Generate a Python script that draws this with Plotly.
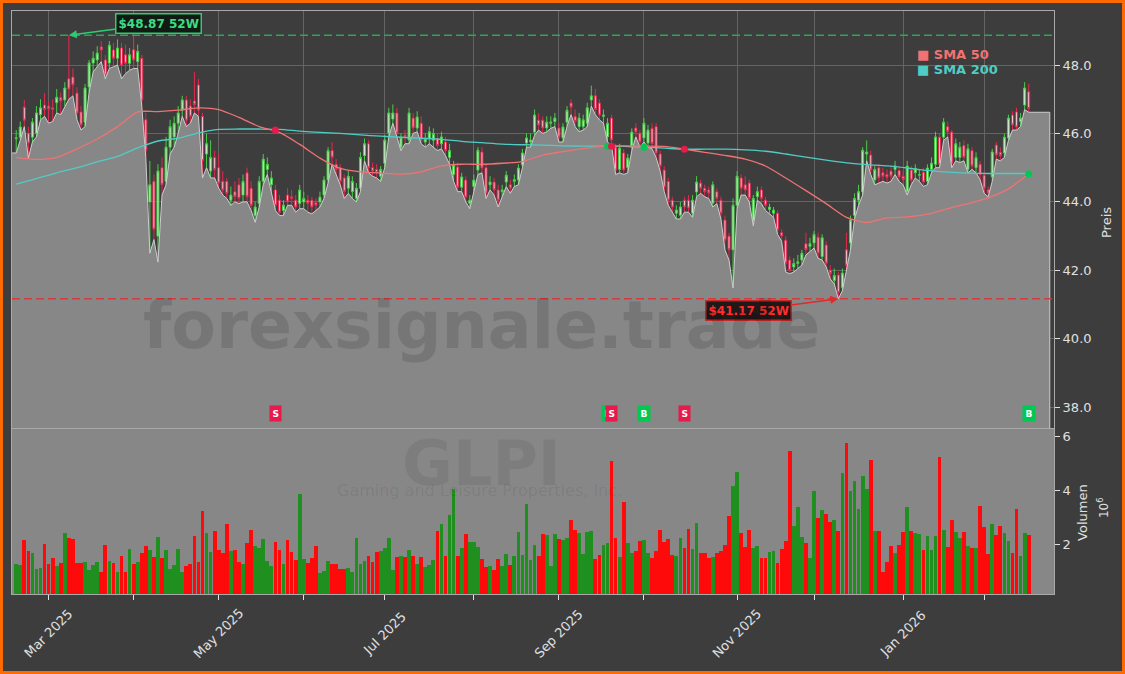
import pandas as pd
import plotly.graph_objects as go

# ---------------- data ----------------
first_day = "2025-02-19"
last_day = "2026-02-18"
market_holidays = ["2025-04-18", "2025-05-26", "2025-06-19", "2025-07-04", "2025-09-01",
                   "2025-11-27", "2025-12-25", "2026-01-01", "2026-01-19", "2026-02-16"]

opens = [
    45.85, 45.89, 46.77, 46.01, 45.89, 46.01, 46.55, 46.83, 46.80, 46.75,
    46.90, 47.05, 46.98, 47.60, 47.65, 47.18, 46.63, 46.33, 47.36, 48.06,
    48.15, 48.53, 48.15, 48.06, 48.44, 48.20, 48.50, 48.30, 48.05, 48.45,
    48.10, 48.20, 46.40, 44.00, 44.60, 43.00, 45.00, 44.60, 45.60, 45.90,
    46.30, 46.68, 46.98, 46.80, 46.95, 47.42, 46.50, 45.40, 44.90, 45.30,
    45.00, 44.60, 44.60, 44.05, 44.30, 44.50, 44.20, 44.85, 44.40, 43.60,
    43.95, 44.60, 44.95, 44.50, 44.35, 44.05, 43.75, 44.20, 44.15, 44.05,
    43.95, 44.00, 44.05, 44.05, 43.98, 44.00, 44.20, 44.64, 45.50, 45.10,
    45.00, 44.70, 44.40, 44.30, 44.10, 44.40, 45.35, 45.70, 45.00, 44.95,
    44.75, 45.13, 46.01, 46.42, 46.60, 45.60, 45.95, 45.81, 46.45, 46.16,
    46.30, 45.75, 45.85, 45.80, 45.85, 45.70, 45.75, 45.30, 44.80, 45.02,
    44.43, 44.64, 43.95, 44.45, 44.93, 45.46, 45.00, 44.50, 44.58, 44.35,
    44.30, 44.58, 44.50, 44.60, 44.64, 45.08, 45.72, 45.75, 46.04, 46.39,
    46.39, 46.16, 46.30, 46.35, 46.16, 45.87, 46.33, 46.89, 46.50, 46.20,
    46.20, 46.30, 46.98, 47.10, 46.89, 46.50, 45.90, 46.45, 45.60, 44.95,
    45.43, 45.00, 45.60, 46.16, 46.01, 45.87, 45.72, 46.15, 46.20, 45.40,
    44.93, 44.60, 44.05, 43.67, 43.61, 44.05, 44.05, 43.67, 44.29, 44.55,
    44.40, 44.35, 43.96, 44.30, 44.05, 43.47, 43.00, 42.60, 43.90, 44.70,
    44.50, 44.55, 43.45, 44.15, 44.35, 44.05, 43.78, 43.67, 43.67, 43.10,
    42.88, 42.30, 42.10, 42.20, 42.30, 42.78, 42.70, 42.80, 42.97, 42.40,
    42.74, 42.00, 41.70, 41.86, 41.50, 42.60, 42.80, 43.60, 44.05, 44.29,
    45.40, 45.37, 44.64, 45.00, 44.85, 44.80, 44.90, 44.95, 44.92, 44.75,
    44.30, 44.93, 44.85, 44.78, 44.87, 44.60, 44.95, 45.10, 45.89, 45.89,
    46.20, 46.04, 45.30, 45.30, 45.65, 44.95, 45.50, 45.00, 45.10, 44.78,
    44.35, 44.73, 45.66, 45.45, 45.43, 45.87, 46.54, 46.63, 46.35, 46.83,
    47.22,
]
highs = [
    46.10, 46.35, 46.98, 46.20, 46.45, 46.80, 47.00, 47.18, 46.95, 47.00,
    47.30, 47.20, 47.50, 48.87, 47.90, 47.35, 46.80, 47.45, 48.15, 48.40,
    48.55, 48.70, 48.30, 48.70, 48.65, 48.75, 48.65, 48.60, 48.50, 48.85,
    48.60, 48.30, 46.60, 45.20, 44.80, 45.10, 45.30, 45.90, 46.40, 46.50,
    46.80, 47.10, 47.10, 47.00, 47.80, 47.60, 46.60, 46.00, 45.80, 45.50,
    45.40, 44.90, 44.70, 44.45, 44.60, 44.70, 44.80, 45.00, 44.60, 44.00,
    44.75, 45.40, 45.30, 44.90, 44.50, 44.20, 44.05, 44.40, 44.35, 44.20,
    44.50, 44.30, 44.20, 44.15, 44.10, 44.30, 44.75, 45.60, 45.75, 45.25,
    45.10, 44.80, 44.90, 44.75, 44.55, 45.45, 45.85, 45.80, 45.15, 45.10,
    45.05, 45.95, 46.75, 46.85, 46.75, 46.00, 46.10, 46.75, 46.60, 46.65,
    46.50, 46.00, 46.20, 46.15, 46.00, 46.05, 45.90, 45.70, 45.20, 45.15,
    44.85, 44.75, 44.20, 44.80, 45.60, 45.60, 45.10, 44.75, 44.70, 44.50,
    44.50, 44.90, 44.65, 44.80, 45.10, 45.55, 46.00, 46.00, 46.70, 46.60,
    46.50, 46.50, 46.50, 46.60, 46.30, 46.30, 46.80, 47.00, 46.70, 46.60,
    46.55, 46.90, 47.40, 47.30, 47.00, 46.70, 46.45, 46.55, 45.70, 45.70,
    45.55, 45.40, 46.15, 46.30, 46.10, 46.45, 46.25, 46.30, 46.30, 45.50,
    45.05, 44.70, 44.15, 43.90, 44.00, 44.15, 44.20, 44.20, 44.75, 44.65,
    44.50, 44.45, 44.60, 44.40, 44.15, 43.60, 43.10, 44.10, 44.90, 44.80,
    44.75, 44.65, 44.20, 44.45, 44.45, 44.15, 43.95, 43.85, 43.75, 43.20,
    43.00, 42.40, 42.35, 42.45, 42.60, 43.10, 42.95, 43.15, 43.10, 43.05,
    42.85, 42.15, 42.05, 41.95, 42.05, 43.10, 43.60, 44.25, 44.50, 45.60,
    45.80, 45.50, 45.05, 45.10, 45.00, 44.95, 45.05, 45.20, 45.05, 44.90,
    45.20, 45.05, 45.10, 44.95, 45.00, 45.10, 45.30, 46.05, 46.00, 46.45,
    46.35, 46.10, 45.85, 45.75, 45.80, 45.70, 45.60, 45.45, 45.20, 44.90,
    44.45, 45.55, 45.75, 45.60, 46.00, 46.55, 46.65, 46.75, 46.60, 47.50,
    47.45,
]
lows = [
    45.43, 45.80, 46.20, 45.28, 45.75, 45.90, 46.40, 46.50, 46.30, 46.35,
    46.60, 46.55, 46.80, 47.00, 47.10, 46.40, 46.10, 46.20, 47.20, 47.80,
    47.95, 48.10, 47.60, 47.90, 47.95, 48.00, 47.60, 47.75, 47.85, 47.90,
    47.90, 46.80, 45.30, 42.50, 42.90, 42.24, 44.20, 44.50, 45.40, 45.60,
    46.00, 46.50, 46.20, 46.30, 46.60, 46.50, 44.70, 45.00, 44.70, 44.70,
    44.40, 44.20, 44.10, 43.90, 44.00, 43.95, 44.00, 44.00, 43.75, 43.40,
    43.85, 44.50, 44.80, 44.30, 43.75, 43.60, 43.60, 43.90, 43.90, 43.70,
    43.80, 43.80, 43.70, 43.65, 43.75, 43.85, 44.10, 44.55, 45.10, 44.80,
    44.50, 44.10, 44.25, 44.10, 44.00, 44.30, 45.20, 44.85, 44.75, 44.70,
    44.60, 45.00, 45.90, 46.30, 45.90, 45.50, 45.70, 45.70, 46.00, 46.05,
    45.70, 45.60, 45.70, 45.60, 45.50, 45.55, 45.35, 45.10, 44.60, 44.30,
    44.30, 44.00, 43.80, 44.30, 44.80, 44.85, 44.10, 44.35, 44.20, 43.85,
    44.15, 44.45, 44.25, 44.45, 44.50, 45.00, 45.60, 45.60, 45.95, 46.10,
    46.00, 46.05, 46.15, 46.20, 45.75, 45.75, 46.20, 46.55, 46.20, 46.05,
    46.10, 46.20, 46.80, 46.55, 46.40, 46.30, 45.75, 45.65, 44.80, 44.85,
    44.80, 44.85, 45.50, 45.90, 45.60, 45.75, 45.60, 45.55, 45.30, 44.90,
    44.30, 43.90, 43.70, 43.50, 43.50, 43.70, 43.70, 43.55, 44.15, 44.25,
    44.15, 44.10, 43.85, 43.95, 43.50, 42.60, 42.30, 41.48, 43.80, 44.20,
    44.20, 44.00, 43.30, 44.05, 43.95, 43.75, 43.65, 43.55, 43.05, 42.85,
    41.95, 41.90, 41.95, 42.05, 42.15, 42.45, 42.55, 42.65, 42.35, 42.30,
    42.10, 41.75, 41.60, 41.17, 41.40, 42.00, 42.60, 43.50, 43.90, 44.20,
    45.20, 44.80, 44.50, 44.55, 44.60, 44.55, 44.60, 44.80, 44.60, 44.50,
    44.20, 44.50, 44.70, 44.60, 44.45, 44.50, 44.85, 45.00, 45.00, 45.80,
    45.90, 45.00, 45.20, 45.15, 45.20, 44.85, 44.95, 44.85, 44.65, 44.25,
    44.15, 44.60, 45.25, 45.20, 45.30, 45.80, 46.10, 46.10, 46.20, 46.70,
    46.62,
]
closes = [
    45.87, 46.19, 46.39, 45.72, 46.33, 46.60, 46.75, 46.70, 46.72, 46.70,
    47.06, 46.95, 47.33, 47.30, 47.42, 46.60, 46.25, 47.33, 48.06, 48.20,
    48.35, 48.44, 47.71, 48.58, 48.20, 48.50, 48.00, 48.05, 48.30, 48.15,
    48.40, 46.98, 45.50, 44.50, 43.20, 44.90, 44.50, 45.60, 46.20, 46.30,
    46.60, 46.98, 46.39, 46.50, 46.85, 46.68, 45.20, 45.70, 45.30, 44.95,
    44.55, 44.35, 44.25, 44.20, 44.15, 44.10, 44.60, 44.15, 43.90, 43.85,
    44.60, 45.25, 45.10, 44.70, 43.90, 43.70, 43.90, 44.00, 44.10, 43.85,
    44.35, 44.10, 43.96, 43.85, 43.90, 44.14, 44.64, 45.50, 45.30, 44.95,
    44.60, 44.30, 44.75, 44.60, 44.40, 45.30, 45.70, 45.00, 44.90, 44.85,
    44.95, 45.81, 46.60, 46.60, 46.01, 45.89, 45.88, 46.60, 46.16, 46.48,
    45.80, 45.85, 46.05, 46.00, 45.65, 45.90, 45.50, 45.50, 45.08, 44.43,
    44.73, 44.14, 44.05, 44.64, 45.51, 44.99, 44.26, 44.58, 44.35, 44.05,
    44.35, 44.78, 44.40, 44.65, 44.99, 45.43, 45.87, 45.81, 46.54, 46.25,
    46.16, 46.33, 46.33, 46.45, 45.89, 46.19, 46.68, 46.77, 46.35, 46.45,
    46.40, 46.75, 47.10, 46.70, 46.54, 46.54, 46.30, 45.81, 44.93, 45.57,
    44.93, 45.28, 46.04, 46.04, 45.75, 46.30, 46.10, 45.70, 45.43, 45.05,
    44.43, 44.05, 43.85, 43.76, 43.85, 43.85, 43.82, 44.05, 44.58, 44.40,
    44.30, 44.26, 44.50, 44.10, 43.67, 42.88, 42.60, 43.90, 44.75, 44.40,
    44.35, 44.10, 44.10, 44.30, 44.10, 43.90, 43.85, 43.76, 43.18, 43.00,
    42.21, 42.00, 42.20, 42.25, 42.50, 42.60, 42.78, 43.05, 42.50, 42.95,
    42.21, 41.90, 41.85, 41.35, 41.92, 42.15, 43.47, 44.10, 44.30, 45.51,
    45.46, 44.93, 44.95, 44.70, 44.75, 44.72, 44.75, 45.05, 44.73, 44.65,
    45.05, 44.64, 44.98, 44.80, 44.58, 44.99, 45.13, 45.90, 45.10, 46.33,
    46.05, 45.13, 45.70, 45.60, 45.30, 45.55, 45.05, 45.30, 44.80, 44.40,
    44.26, 45.46, 45.37, 45.35, 45.89, 46.45, 46.25, 46.19, 46.45, 47.33,
    46.73,
]
volume_millions = [
    1.27, 1.21, 2.16, 1.74, 1.67, 1.08, 1.12, 2.00, 1.27, 1.49,
    1.17, 1.30, 2.40, 2.22, 2.18, 1.28, 1.30, 1.33, 1.02, 1.21,
    1.33, 0.97, 1.96, 1.38, 1.30, 0.97, 1.56, 0.97, 1.82, 1.27,
    1.33, 1.67, 1.94, 1.78, 1.52, 2.26, 1.47, 1.78, 1.08, 1.23,
    1.82, 0.97, 1.17, 1.27, 2.31, 1.33, 3.21, 2.40, 1.69, 2.48,
    1.78, 1.67, 2.73, 1.74, 1.78, 1.33, 1.25, 2.04, 2.51, 1.93,
    1.85, 2.18, 1.38, 1.17, 2.07, 1.78, 1.27, 2.15, 1.69, 1.41,
    3.84, 1.45, 1.30, 1.49, 1.93, 0.94, 1.00, 1.38, 1.27, 1.27,
    1.08, 1.08, 1.12, 0.97, 2.22, 1.27, 1.38, 1.56, 1.33, 1.71,
    1.74, 1.85, 2.22, 1.05, 1.52, 1.56, 1.52, 1.78, 1.56, 1.27,
    1.52, 1.16, 1.23, 1.41, 2.48, 2.73, 1.56, 3.09, 4.02, 1.56,
    1.85, 2.37, 2.06, 2.06, 1.89, 1.45, 1.16, 1.19, 1.05, 1.45,
    1.19, 1.63, 1.23, 1.56, 2.44, 1.60, 3.50, 1.41, 1.96, 1.56,
    2.37, 2.33, 1.19, 2.37, 2.18, 2.15, 2.22, 2.88, 2.51, 2.40,
    1.63, 2.44, 2.48, 1.45, 1.60, 1.96, 2.04, 5.08, 2.22, 1.52,
    3.54, 2.04, 1.67, 1.74, 2.11, 2.15, 1.67, 1.49, 1.74, 2.51,
    2.07, 2.18, 1.60, 1.56, 2.22, 1.85, 2.55, 1.82, 2.77, 1.67,
    1.67, 1.49, 1.52, 1.67, 1.75, 1.96, 3.03, 4.14, 4.68, 2.40,
    1.89, 2.51, 1.85, 1.93, 1.49, 1.49, 1.71, 1.74, 1.30, 1.82,
    2.11, 5.45, 2.66, 3.36, 2.26, 2.04, 1.49, 3.95, 2.95, 3.27,
    3.10, 2.81, 2.88, 2.48, 4.64, 5.74, 3.98, 4.35, 3.28, 4.53,
    4.05, 5.12, 2.48, 2.48, 0.97, 1.34, 1.93, 1.67, 1.96, 2.44,
    3.36, 2.48, 2.40, 2.37, 1.78, 2.29, 1.78, 2.29, 5.23, 2.51,
    1.89, 2.88, 2.44, 2.22, 2.44, 1.93, 1.85, 1.85, 3.40, 2.62,
    1.63, 2.73, 2.33, 2.66, 2.40, 2.11, 1.67, 3.31, 1.56, 2.40,
    2.33,
]

sma_idx = [0, 5, 10, 15, 20, 25, 30, 35, 40, 45, 50, 55, 60, 65, 70, 75, 80, 85, 90, 95,
           100, 105, 110, 115, 120, 125, 130, 135, 140, 145, 150, 155, 160, 165, 170, 175,
           180, 185, 190, 195, 200, 205, 210, 215, 220, 225, 230, 235, 240, 245, 250]
sma50 = [45.30, 45.24, 45.30, 45.55, 45.84, 46.20, 46.63, 46.64, 46.68, 46.75,
         46.70, 46.47, 46.20, 46.03, 45.68, 45.28, 44.98, 44.88, 44.84, 44.81,
         44.88, 45.05, 45.10, 45.10, 45.13, 45.18, 45.37, 45.47, 45.56, 45.62,
         45.64, 45.63, 45.62, 45.54, 45.45, 45.36, 45.25, 45.05, 44.70, 44.33,
         43.95, 43.55, 43.40, 43.53, 43.56, 43.64, 43.80, 43.95, 44.12, 44.38, 44.82]
sma200 = [44.52, 44.68, 44.85, 45.00, 45.17, 45.33, 45.58, 45.78, 45.86, 46.02,
          46.12, 46.13, 46.13, 46.12, 46.07, 46.03, 46.00, 45.96, 45.92, 45.89,
          45.86, 45.83, 45.77, 45.73, 45.69, 45.67, 45.66, 45.64, 45.63, 45.63,
          45.62, 45.60, 45.57, 45.54, 45.54, 45.54, 45.52, 45.48, 45.40, 45.31,
          45.22, 45.14, 45.09, 45.05, 44.99, 44.92, 44.87, 44.84, 44.83, 44.83, 44.83]

# crossover signals
cross_idx = [64, 146, 147, 155, 165, 250]
cross_kind = ["S", "B", "S", "B", "S", "B"]
cross_price = [46.10, 45.63, 45.63, 45.60, 45.54, 44.82]

price_ticks = [38, 40, 42, 44, 46, 48]
volume_ticks = [2, 4, 6]

# ---------------- styling / layout constants ----------------
BG = "#3d3d3d"
PANEL = "#878787"
GRID = "#646464"
FRAME = "#a9a9a9"
TXT = "#e0e0e0"
UP_VOL = "#1f8f1f"
DN_VOL = "#ff0a0a"
SELL = "#e8194b"
BUY = "#00c853"
SMA50_C = "#f07272"
SMA200_C = "#4fcdc4"

X_LEFT, X_RIGHT = -1.04, 256.25
FILL_END = 255.2
P_MIN, P_MAX = 37.39, 49.58
V_MIN, V_MAX = 0.148, 6.26
SIGNAL_LEVEL = 37.8

dates = pd.bdate_range(first_day, last_day)
dates = dates[~dates.isin(pd.to_datetime(market_holidays))]
n = len(dates)
idx = list(range(n))

fig = go.Figure()

# area below lows
fx = [X_LEFT] + idx + [FILL_END, FILL_END]
fy = [lows[0]] + lows + [lows[-1], P_MIN]
fig.add_trace(go.Scatter(x=fx, y=fy, mode="lines", line=dict(color="#cdcdcd", width=1),
                         fill="tozeroy", fillcolor=PANEL, hoverinfo="skip",
                         showlegend=False, xaxis="x", yaxis="y"))

fig.add_trace(go.Scatter(x=sma_idx, y=sma200, mode="lines",
                         line=dict(color=SMA200_C, width=1.3, shape="spline", smoothing=0.7),
                         showlegend=False, xaxis="x", yaxis="y"))
fig.add_trace(go.Scatter(x=sma_idx, y=sma50, mode="lines",
                         line=dict(color=SMA50_C, width=1.3, shape="spline", smoothing=0.7),
                         showlegend=False, xaxis="x", yaxis="y"))

fig.add_trace(go.Candlestick(
    x=idx, open=opens, high=highs, low=lows, close=closes,
    increasing=dict(line=dict(color="#46d046", width=1), fillcolor="#d3e8d3"),
    decreasing=dict(line=dict(color="#e3294f", width=1), fillcolor="#f5c4cf"),
    whiskerwidth=0, showlegend=False, xaxis="x", yaxis="y"))

fig.add_trace(go.Scatter(x=cross_idx, y=cross_price, mode="markers",
                         marker=dict(size=7, color=[SELL if k == "S" else BUY for k in cross_kind]),
                         showlegend=False, xaxis="x", yaxis="y"))

vcol = [UP_VOL if c >= o else DN_VOL for o, c in zip(opens, closes)]
fig.add_trace(go.Bar(x=idx, y=volume_millions, marker=dict(color=vcol, line=dict(width=0)),
                     width=0.92, showlegend=False, xaxis="x2", yaxis="y2"))

month_ticks = [i for i in range(1, n) if dates[i].month != dates[i - 1].month]
labelled = [i for i in month_ticks if dates[i].month % 2 == 1]

fig.update_layout(
    width=1125, height=674,
    margin=dict(l=12, r=71, t=11, b=80),
    paper_bgcolor=BG, plot_bgcolor=BG,
    font=dict(family="DejaVu Sans", color=TXT, size=13),
    showlegend=False, bargap=0,
    xaxis=dict(domain=[0, 1], range=[X_LEFT, X_RIGHT], anchor="y", tickvals=month_ticks,
               showticklabels=False, ticks="", showgrid=True, gridcolor=GRID, gridwidth=1,
               showline=True, mirror=True, linecolor=FRAME, zeroline=False,
               rangeslider=dict(visible=False)),
    xaxis2=dict(domain=[0, 1], range=[X_LEFT, X_RIGHT], anchor="y2", matches="x",
                tickvals=month_ticks, showticklabels=False, ticks="outside", ticklen=5,
                tickcolor=TXT, showgrid=False, showline=True, mirror=True, linecolor=FRAME,
                zeroline=False, rangeslider=dict(visible=False)),
    yaxis=dict(domain=[0.2847, 1], range=[P_MIN, P_MAX], side="right", anchor="x",
               tickvals=price_ticks, tickformat=".1f", ticks="outside", ticklen=5,
               tickcolor=TXT, showgrid=True, gridcolor=GRID, showline=True, mirror=True,
               linecolor=FRAME, zeroline=False, tickfont=dict(size=13)),
    yaxis2=dict(domain=[0, 0.283], range=[V_MIN, V_MAX], side="right", anchor="x2",
                tickvals=volume_ticks, ticks="outside", ticklen=5, tickcolor=TXT,
                showgrid=False, showline=True, mirror=True, linecolor=FRAME, zeroline=False,
                tickfont=dict(size=13)),
)

# volume panel background
fig.add_shape(type="rect", xref="x2 domain", yref="y2 domain", x0=0, x1=1, y0=0, y1=1,
              fillcolor=PANEL, line=dict(width=0), layer="below")

# 52-week high / low
hi = max(highs)
hi_i = highs.index(hi)
lo = min(lows)
lo_i = lows.index(lo)
fig.add_shape(type="line", xref="x", yref="y", x0=X_LEFT, x1=X_RIGHT, y0=hi, y1=hi,
              line=dict(color="#2fa35a", width=1.6, dash="8px,4px"))
fig.add_shape(type="line", xref="x", yref="y", x0=X_LEFT, x1=X_RIGHT, y0=lo, y1=lo,
              line=dict(color="#d23c3c", width=1.6, dash="8px,4px"))
fig.add_annotation(x=hi_i, y=hi, xref="x", yref="y", text=f"<b>${hi:.2f} 52W</b>",
                   showarrow=True, ax=90, ay=-12, arrowhead=2, arrowsize=1, arrowwidth=1.6,
                   arrowcolor="#2ecc71", font=dict(color="#3ddc84", size=12),
                   bgcolor="rgba(12,22,14,0.9)", bordercolor="#2ecc71", borderwidth=1.5,
                   borderpad=2)
fig.add_annotation(x=lo_i, y=lo, xref="x", yref="y", text=f"<b>${lo:.2f} 52W</b>",
                   showarrow=True, ax=-90, ay=12, arrowhead=2, arrowsize=1, arrowwidth=1.6,
                   arrowcolor="#e02a2a", font=dict(color="#ff2d2d", size=12),
                   bgcolor="rgba(22,12,12,0.9)", bordercolor="#c82828", borderwidth=1.5,
                   borderpad=2)

# signal boxes
for i, k in zip(cross_idx, cross_kind):
    fig.add_annotation(x=i, y=SIGNAL_LEVEL, xref="x", yref="y", text=f"<b>{k}</b>",
                       showarrow=False, font=dict(color="white", size=9),
                       xanchor="center", yanchor="middle",
                       bgcolor=SELL if k == "S" else BUY, borderpad=2.5)


def paper_text(x, y, text, size, color, angle=0, xanchor="center"):
    fig.add_annotation(x=x, y=y, xref="paper", yref="paper", text=text, textangle=angle,
                       showarrow=False, xanchor=xanchor, yanchor="middle",
                       font=dict(size=size, color=color))


# legend
paper_text(0.8666, 0.9262, "<b>■ SMA 50</b>", 13, SMA50_C, xanchor="left")
paper_text(0.8666, 0.8988, "<b>■ SMA 200</b>", 13, SMA200_C, xanchor="left")

# watermarks
paper_text(0.4506, 0.4597, "<b>forexsignale.trade</b>", 65, "rgba(0,0,0,0.12)")
paper_text(0.4506, 0.223, "<b>GLPI</b>", 62, "rgba(0,0,0,0.07)")
paper_text(0.449, 0.1767, "Gaming and Leisure Properties, Inc.", 16, "rgba(0,0,0,0.08)")

# axis titles
paper_text(1.0499, 0.638, "Preis", 13, TXT, angle=-90)
paper_text(1.0278, 0.1407, "Volumen", 13, TXT, angle=-90)
paper_text(1.047, 0.149, "10<sup>6</sup>", 12, TXT, angle=-90)

# x tick labels (rotated, centred on the tick)
for i in labelled:
    fig.add_annotation(x=i, y=-0.0686, xref="x2", yref="paper", text=dates[i].strftime("%b %Y"),
                       textangle=-45, showarrow=False, xanchor="center", yanchor="middle",
                       font=dict(size=13, color=TXT))

# orange frame around the figure
fig.add_shape(type="rect", xref="paper", yref="paper",
              x0=-0.0101, x1=1.0667, y0=-0.1346, y1=1.0163,
              line=dict(color="#ff6a00", width=3), fillcolor="rgba(0,0,0,0)", layer="above")

fig.write_html("out.html", config={"displayModeBar": False},
               post_script="document.body.style.margin='0';document.body.style.overflow='hidden';")
